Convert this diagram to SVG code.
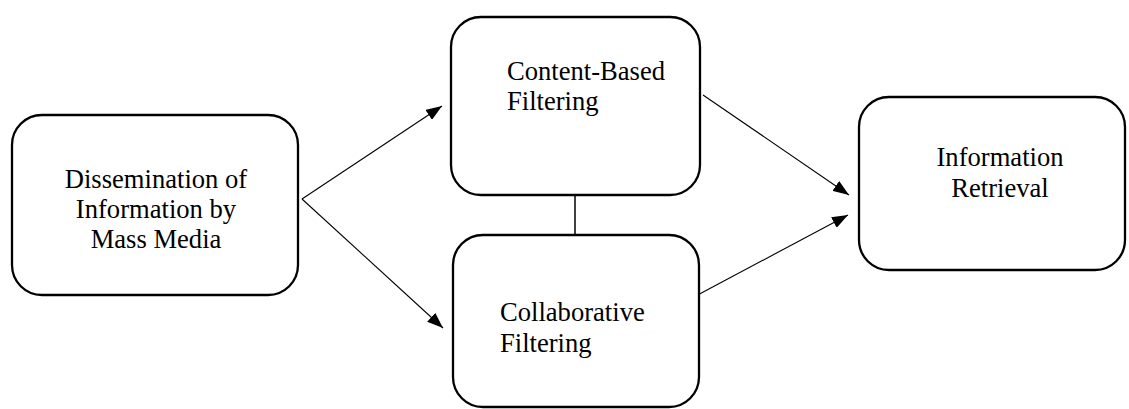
<svg xmlns="http://www.w3.org/2000/svg" width="1129" height="409" viewBox="0 0 1129 409">
<style>
.box{fill:#fff;stroke:#000;stroke-width:2.3}
.t{font-family:'Liberation Serif','Times New Roman',Times,Tinos,'DejaVu Serif',serif;font-size:26.6px;fill:#000}
.c{text-anchor:middle}
.ln{stroke:#000;stroke-width:1.1;fill:none}
</style>
<defs>
<marker id="ah" viewBox="0 0 16 12" refX="16" refY="6" markerWidth="16" markerHeight="12" markerUnits="userSpaceOnUse" orient="auto">
<path d="M0,0 L16,6 L0,12 Z" fill="#000"/>
</marker>
</defs>
<rect width="1129" height="409" fill="#fff"/>
<g id="connectors">
<line class="ln" x1="302" y1="199" x2="442" y2="106" marker-end="url(#ah)"/>
<line class="ln" x1="302" y1="199" x2="443" y2="328" marker-end="url(#ah)"/>
<line class="ln" x1="703" y1="95" x2="849" y2="195" marker-end="url(#ah)"/>
<line class="ln" x1="692" y1="298" x2="848" y2="215" marker-end="url(#ah)"/>
<line class="ln" x1="575" y1="195" x2="575" y2="235" style="stroke-width:1.5"/>
</g>
<g id="dissemination">
<rect class="box" x="12" y="115" width="286" height="180" rx="30"/>
<text class="t c" x="156" y="188">Dissemination of</text>
<text class="t c" x="156" y="218">Information by</text>
<text class="t c" x="156" y="248">Mass Media</text>
</g>
<g id="content-based">
<rect class="box" x="451" y="17" width="249" height="178" rx="30"/>
<text class="t" x="507" y="80">Content-Based</text>
<text class="t" x="507" y="110">Filtering</text>
</g>
<g id="collaborative">
<rect class="box" x="453" y="235" width="246" height="172" rx="30"/>
<text class="t" x="500" y="321">Collaborative</text>
<text class="t" x="500" y="352">Filtering</text>
</g>
<g id="retrieval">
<rect class="box" x="859" y="97" width="266" height="173" rx="30"/>
<text class="t c" x="1000" y="166">Information</text>
<text class="t c" x="1000" y="197">Retrieval</text>
</g>
</svg>
